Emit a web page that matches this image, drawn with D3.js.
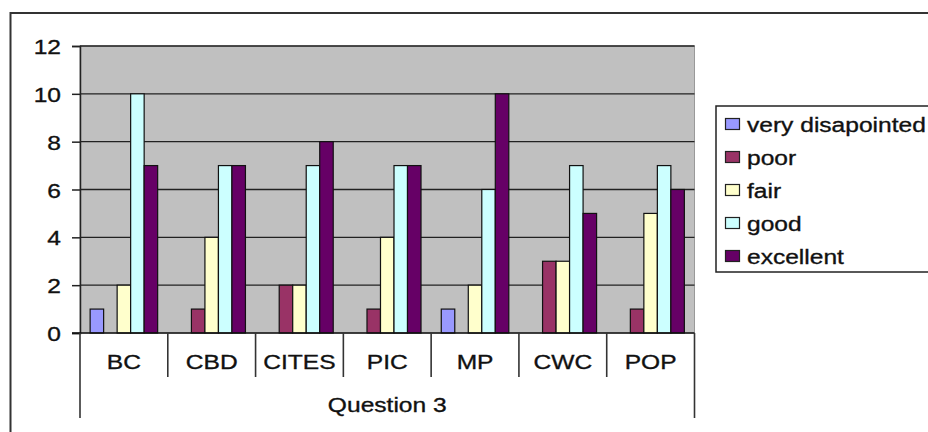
<!DOCTYPE html>
<html>
<head>
<meta charset="utf-8">
<script src="https://cdn.jsdelivr.net/npm/d3@7"></script>
<style>
  html, body { margin: 0; padding: 0; background: #fff; }
  svg { display: block; }
  text { font-family: "Liberation Sans", Arial, sans-serif; fill: #111; stroke: #111; stroke-width: 0.35px; }
</style>
</head>
<body>
<svg id="chart" width="928" height="432"></svg>
<script>
// Survey responses for Question 3, per convention
const categories = ["BC", "CBD", "CITES", "PIC", "MP", "CWC", "POP"];
const seriesNames = ["very disapointed", "poor", "fair", "good", "excellent"];
const seriesColors = ["#9999FF", "#993366", "#FFFFCC", "#CCFFFF", "#660066"];
const veryDisapointed = [1, 0, 0, 0, 1, 0, 0];
const poor            = [0, 1, 2, 1, 0, 3, 1];
const fair            = [2, 4, 2, 4, 2, 3, 5];
const good            = [10, 7, 7, 7, 6, 7, 7];
const excellent       = [7, 7, 8, 7, 10, 5, 6];
const yTicks = [0, 2, 4, 6, 8, 10, 12];
const axisTitle = "Question 3";

const seriesValues = [veryDisapointed, poor, fair, good, excellent];

const svg = d3.select("#chart");
const plot = { left: 80, right: 694.5, top: 46, bottom: 333 };
const sx = 1.17; // horizontal text stretch

// Outer chart frame
svg.append("rect")
  .attr("x", 10.5).attr("y", 13)
  .attr("width", 940).attr("height", 440)
  .attr("fill", "none").attr("stroke", "#333").attr("stroke-width", 2);

const y = d3.scaleLinear().domain([0, 12]).range([plot.bottom, plot.top]);
const x = d3.scaleBand().domain(categories).range([plot.left, plot.right]).padding(0);
const xs = d3.scaleBand().domain(seriesNames).range([0, x.bandwidth()])
  .paddingInner(0).paddingOuter(0.75);

// Plot area background
svg.append("rect")
  .attr("x", plot.left).attr("y", plot.top)
  .attr("width", plot.right - plot.left).attr("height", plot.bottom - plot.top)
  .attr("fill", "#C0C0C0").attr("stroke", "#999").attr("stroke-width", 1);

// Horizontal gridlines
svg.append("g").selectAll("line")
  .data(yTicks.filter(d => d > 0))
  .join("line")
  .attr("x1", plot.left).attr("x2", plot.right)
  .attr("y1", d => y(d)).attr("y2", d => y(d))
  .attr("stroke", "#222").attr("stroke-width", 1.3);

// Value axis
const yAxis = svg.append("g")
  .attr("transform", `translate(${plot.left},0)`)
  .call(d3.axisLeft(y).tickValues(yTicks).tickSize(8).tickPadding(0).tickFormat(d3.format("d")));
yAxis.select(".domain").attr("stroke", "#222").attr("stroke-width", 1.5);
yAxis.selectAll(".tick line").attr("stroke", "#222").attr("stroke-width", 1.5);
yAxis.selectAll(".tick text").remove();
yAxis.selectAll(".tick").append("text")
  .attr("text-anchor", "end")
  .attr("dy", "0.36em")
  .attr("transform", `translate(-19,0) scale(${sx},1)`)
  .style("font-size", "21px")
  .text(d => d);

// Bars
const groups = svg.append("g").selectAll("g")
  .data(categories)
  .join("g")
  .attr("transform", d => `translate(${x(d)},0)`);

groups.selectAll("rect")
  .data((c, ci) => seriesNames.map((s, si) => ({ s, si, v: seriesValues[si][ci] })))
  .join("rect")
  .filter(d => d.v > 0)
  .attr("x", d => xs(d.s))
  .attr("width", xs.bandwidth())
  .attr("y", d => y(d.v))
  .attr("height", d => y(0) - y(d.v))
  .attr("fill", d => seriesColors[d.si])
  .attr("stroke", "#111").attr("stroke-width", 1.2);

// Category axis baseline
svg.append("line")
  .attr("x1", plot.left - 8).attr("x2", plot.right)
  .attr("y1", y(0)).attr("y2", y(0))
  .attr("stroke", "#111").attr("stroke-width", 1.6);

// Category separators
const bounds = categories.map(c => x(c)).concat([plot.right]);
svg.append("g").selectAll("line")
  .data(bounds)
  .join("line")
  .attr("x1", d => d).attr("x2", d => d)
  .attr("y1", y(0))
  .attr("y2", (d, i) => (i === 0 || i === bounds.length - 1) ? 418 : 377)
  .attr("stroke", "#333").attr("stroke-width", 1.6);

// Category labels
svg.append("g").selectAll("text")
  .data(categories)
  .join("text")
  .attr("text-anchor", "middle")
  .attr("transform", d => `translate(${x(d) + x.bandwidth() / 2},369) scale(${sx},1)`)
  .style("font-size", "21px")
  .text(d => d);

// Axis group title
svg.append("text")
  .attr("text-anchor", "middle")
  .attr("transform", `translate(${(plot.left + plot.right) / 2},412) scale(${sx},1)`)
  .style("font-size", "21px")
  .text(axisTitle);

// Legend
const legend = svg.append("g");
legend.append("rect")
  .attr("x", 716).attr("y", 106)
  .attr("width", 240).attr("height", 166)
  .attr("fill", "#fff").attr("stroke", "#222").attr("stroke-width", 1.5);

const items = legend.selectAll("g.item")
  .data(seriesNames)
  .join("g")
  .attr("class", "item")
  .attr("transform", (d, i) => `translate(725,${124 + i * 33})`);

items.append("rect")
  .attr("x", 0.5).attr("y", -5.5)
  .attr("width", 14).attr("height", 11)
  .attr("fill", (d, i) => seriesColors[i])
  .attr("stroke", "#222").attr("stroke-width", 1.2);

items.append("text")
  .attr("dy", "0.36em")
  .attr("transform", `translate(22,0) scale(${sx},1)`)
  .style("font-size", "21px")
  .text(d => d);
</script>
</body>
</html>
